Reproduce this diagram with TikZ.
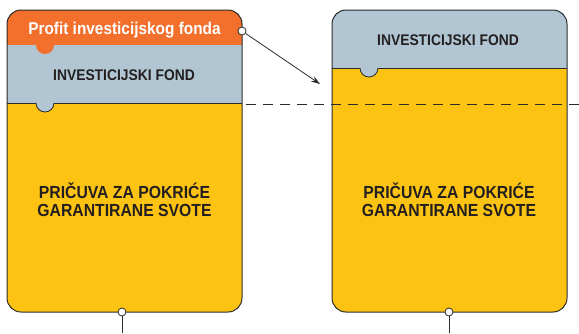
\documentclass[tikz,border=0pt]{standalone}
\usepackage{fontspec}
\setmainfont{Liberation Sans}
\usetikzlibrary{arrows.meta}
\definecolor{orangeband}{HTML}{F26F2C}
\definecolor{blueband}{HTML}{B1C6D2}
\definecolor{yellowband}{HTML}{FDC312}
\definecolor{edge}{HTML}{2B2B2B}
\definecolor{txt}{HTML}{231F20}
\tikzset{
  boxedge/.style={draw=edge, line width=1pt, rounded corners=14pt},
  bandline/.style={draw=edge, line width=0.8pt},
  notchblue/.style={fill=blueband, draw=edge, line width=0.8pt},
  pin/.style={circle, draw=edge, fill=white, inner sep=0pt, minimum size=8pt, line width=0.8pt},
  connector/.style={draw=edge, line width=0.8pt},
  dashline/.style={draw=edge, line width=0.9pt, dash pattern=on 10pt off 7pt},
  condtxt/.style={anchor=base, xscale=0.9, transform shape},
  bigtxt/.style={condtxt, text=txt, font=\bfseries\fontsize{17.5}{18}\selectfont},
  fundtxt/.style={condtxt, text=txt, font=\bfseries\fontsize{15.4}{18}\selectfont},
  profittxt/.style={condtxt, text=white, font=\bfseries\fontsize{17.1}{18}\selectfont},
}
\begin{document}
\begin{tikzpicture}[x=1pt,y=-1pt]
\useasboundingbox (0,0) rectangle (579,333);
% left box
\begin{scope}
  \clip[rounded corners=14pt] (7,10) rectangle (242,312);
  \fill[yellowband] (7,103) rectangle (242,312);
  \filldraw[notchblue] (45,103) circle[radius=9];
  \fill[blueband] (7,45) rectangle (242,103);
  \fill[orangeband] (45,45) circle[radius=9];
  \fill[orangeband] (7,10) rectangle (242,45);
  \draw[bandline] (7,103) -- (36,103) (54,103) -- (242,103);
\end{scope}
\draw[boxedge] (7,10) rectangle (242,312);
% right box
\begin{scope}
  \clip[rounded corners=14pt] (332,10) rectangle (567,312);
  \fill[yellowband] (332,68) rectangle (567,312);
  \filldraw[notchblue] (369,68) circle[radius=9];
  \fill[blueband] (332,10) rectangle (567,68);
  \draw[bandline] (332,68) -- (360,68) (378,68) -- (567,68);
\end{scope}
\draw[boxedge] (332,10) rectangle (567,312);
% dashed level line
\coordinate (dashA) at (246,104);
\coordinate (dashB) at (579,104);
\draw[dashline] (dashA) -- (dashB);
% texts
\node[profittxt] (profit) at (124.5,34) {Profit investicijskog fonda};
\node[fundtxt] (fundL) at (124,80) {INVESTICIJSKI FOND};
\node[fundtxt] (fundR) at (448,45) {INVESTICIJSKI FOND};
\node[bigtxt] (resL1) at (124.5,198) {PRIČUVA ZA POKRIĆE};
\node[bigtxt] (resL2) at (124.5,216) {GARANTIRANE SVOTE};
\node[bigtxt] (resR1) at (449,198) {PRIČUVA ZA POKRIĆE};
\node[bigtxt] (resR2) at (449,216) {GARANTIRANE SVOTE};
% connectors
\node[pin] (pc) at (242,31) {};
\coordinate (arrtip) at (320,84);
\draw[connector, -{Stealth[length=9pt,width=6pt]}] (pc) -- (arrtip);
\node[pin] (b1) at (122,312) {};
\coordinate (b1e) at (122,333);
\draw[connector] (b1) -- (b1e);
\node[pin] (b2) at (449,312) {};
\coordinate (b2e) at (449,333);
\draw[connector] (b2) -- (b2e);
\end{tikzpicture}
\end{document}
